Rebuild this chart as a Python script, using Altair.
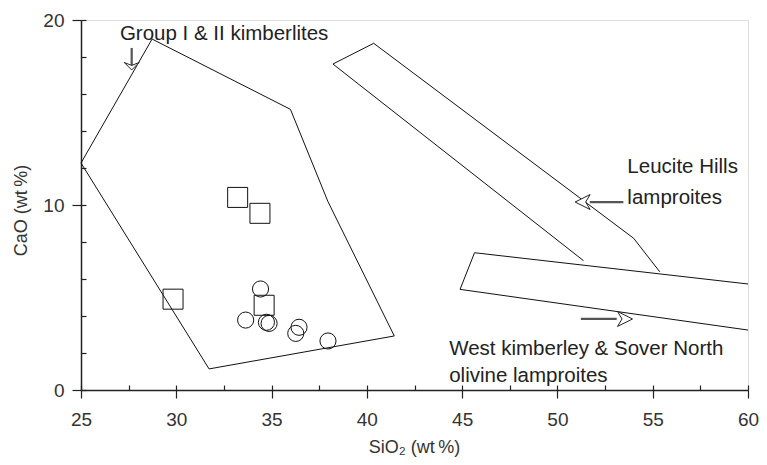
import altair as alt
import pandas as pd

# ---- data ----
kimb_x = [25.0, 28.73, 35.99, 37.96, 41.44, 31.72, 25.0]
kimb_y = [12.27, 18.97, 15.17, 10.18, 2.92, 1.14, 12.27]

leu_x = [51.37, 38.22, 40.36, 54.0, 55.37]
leu_y = [6.99, 17.62, 18.74, 8.2, 6.39]

wk_x = [60.0, 45.65, 44.89, 60.0]
wk_y = [5.73, 7.42, 5.44, 3.24]

sq_x = [33.22, 34.39, 29.83, 34.61]
sq_y = [10.41, 9.55, 4.91, 4.58]

ci_x = [34.42, 33.64, 34.73, 34.87, 36.27, 36.44, 37.96]
ci_y = [5.46, 3.78, 3.66, 3.60, 3.06, 3.39, 2.65]

label_text = ["Group I & II kimberlites", "Leucite Hills", "lamproites",
              "West kimberley & Sover North", "olivine lamproites"]
label_x = [27.04, 53.67, 53.67, 44.32, 44.32]
label_y = [18.92, 11.73, 10.05, 1.89, 0.45]

# arrows: shaft start/end and head tip
shaft_x = [27.66, 51.70, 51.23]
shaft_x2 = [27.66, 53.46, 53.11]
shaft_y = [18.49, 10.16, 3.84]
shaft_y2 = [17.45, 10.16, 3.84]
head_x = [27.66, 50.93, 53.94]
head_y = [17.30, 10.16, 3.84]
head_dir = ["down", "left", "right"]

x_ticks = [25, 30, 35, 40, 45, 50, 55, 60]
x_minor = [25 + 2.5 * i for i in range(15)]
y_ticks = [0, 10, 20]
y_minor = [2 * i for i in range(11)]

FONT = "Liberation Sans"
INK = "#222222"

xs = alt.Scale(domain=[25, 60], nice=False, zero=False)
ys = alt.Scale(domain=[0, 20], nice=False, zero=False)


def X(axis=None, field="x"):
    return alt.X(field, type="quantitative", scale=xs, axis=axis)


def Y(axis=None, field="y"):
    return alt.Y(field, type="quantitative", scale=ys, axis=axis)


rows = []
for name, xx, yy in [("kimb", kimb_x, kimb_y), ("leu", leu_x, leu_y), ("wk", wk_x, wk_y)]:
    for i, (a, b) in enumerate(zip(xx, yy)):
        rows.append({"g": name, "i": i, "x": a, "y": b})
lines_df = pd.DataFrame(rows)

main_x_axis = alt.Axis(
    values=x_ticks, orient="bottom", tickSize=8, tickColor=INK, tickWidth=1.2,
    domainColor=INK, domainWidth=1.5, grid=False, format="d", labelFlush=False,
    labelFont=FONT, labelFontSize=19, labelColor="#333333", labelPadding=27,
    labelBaseline="alphabetic",
    title="SiO₂ (wt\u2009%)", titleFont=FONT, titleFontSize=18, titleFontWeight="normal",
    titleColor="#333333", titleBaseline="alphabetic", titleX=333, titleY=62,
)
main_y_axis = alt.Axis(
    values=y_ticks, orient="left", tickSize=9, tickColor=INK, tickWidth=1.2,
    domainColor=INK, domainWidth=1.5, grid=False, format="d", labelFlush=False,
    labelFont=FONT, labelFontSize=19, labelColor="#333333", labelPadding=8,
    labelBaseline="middle",
    title="CaO (wt\u2009%)", titleFont=FONT, titleFontSize=18, titleFontWeight="normal",
    titleColor="#333333", titleBaseline="alphabetic", titleAngle=270,
    titleX=-55, titleY=190,
)
minor_x_axis = alt.Axis(
    values=x_minor, orient="bottom", offset=-5, tickSize=5, tickColor=INK, tickWidth=1.2,
    domain=False, labels=False, grid=False, title=None,
)
minor_y_axis = alt.Axis(
    values=y_minor, orient="left", offset=-5, tickSize=5, tickColor=INK, tickWidth=1.2,
    domain=False, labels=False, grid=False, title=None,
)

lines = alt.Chart(lines_df).mark_line(color="#111111", strokeWidth=1).encode(
    x=X(main_x_axis), y=Y(main_y_axis), detail="g:N", order="i:Q"
)

squares = alt.Chart(pd.DataFrame({"x": sq_x, "y": sq_y})).mark_point(
    shape="square", size=400, filled=False, color="#111111", strokeWidth=1, opacity=1
).encode(x=X(minor_x_axis), y=Y(minor_y_axis))

circles = alt.Chart(pd.DataFrame({"x": ci_x, "y": ci_y})).mark_point(
    shape="circle", size=260, filled=False, color="#111111", strokeWidth=1, opacity=1
).encode(x=X(), y=Y())

labels = alt.Chart(pd.DataFrame({"x": label_x, "y": label_y, "t": label_text})).mark_text(
    align="left", baseline="alphabetic", font=FONT, fontSize=20.5, color=INK
).encode(x=X(), y=Y(), text="t:N")

shafts_df = pd.DataFrame({"x": shaft_x, "x2": shaft_x2, "y": shaft_y, "y2": shaft_y2})
shafts = alt.Chart(shafts_df).mark_rule(color="#555555", strokeWidth=2.2).encode(
    x=X(), x2="x2:Q", y=Y(), y2="y2:Q"
)

heads_df = pd.DataFrame({"x": head_x, "y": head_y, "d": head_dir})
paths = {
    "down": "M 0 0 L -0.5 -0.5 L 0 -0.3 L 0.5 -0.5 Z",
    "left": "M 0 0 L 1 -0.5 L 0.7 0 L 1 0.5 Z",
    "right": "M 0 0 L -1 -0.5 L -0.7 0 L -1 0.5 Z",
}
heads = []
for d, p in paths.items():
    heads.append(
        alt.Chart(heads_df[heads_df["d"] == d]).mark_point(
            shape=p, size=900, filled=True, fill="white", stroke="#222222",
            strokeWidth=1, opacity=1
        ).encode(x=X(), y=Y())
    )

chart = alt.layer(lines, squares, circles, shafts, *heads, labels).resolve_axis(
    x="independent", y="independent"
).properties(
    width=667, height=370, autosize=alt.AutoSizeParams(type="none"),
    padding={"left": 73, "top": 12, "right": 11, "bottom": 67},
).configure_view(stroke="#777777", strokeWidth=1).configure(background="white")

chart.save("out.html", embed_options={"renderer": "svg", "actions": False})
